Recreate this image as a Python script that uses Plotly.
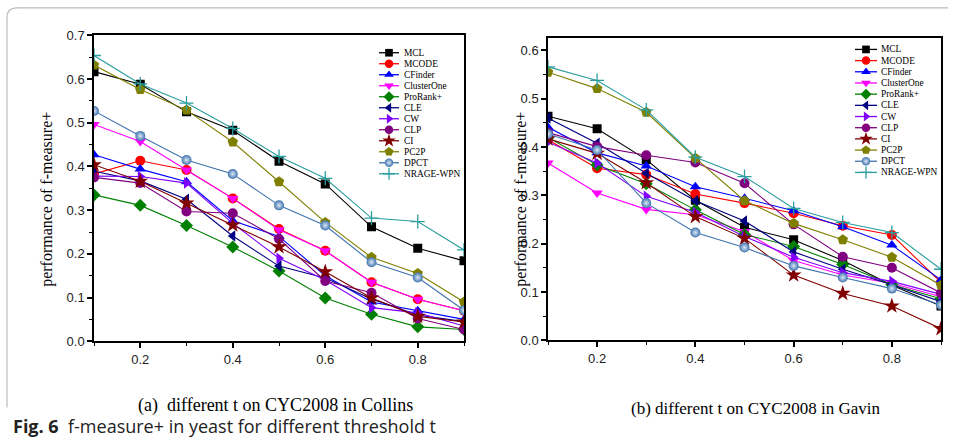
import plotly.graph_objects as go

W, H = 956, 439

t_values = [0.1, 0.2, 0.3, 0.4, 0.5, 0.6, 0.7, 0.8, 0.9]
methods = ["MCL", "MCODE", "CFinder", "ClusterOne", "ProRank+", "CLE", "CW", "CLP", "CI", "PC2P", "DPCT", "NRAGE-WPN"]

collins_MCL = [0.617, 0.588, 0.525, 0.483, 0.412, 0.360, 0.262, 0.213, 0.184]
collins_MCODE = [0.383, 0.413, 0.392, 0.327, 0.257, 0.207, 0.135, 0.096, 0.070]
collins_CFinder = [0.427, 0.394, 0.365, 0.276, 0.240, 0.150, 0.090, 0.070, 0.050]
collins_ClusterOne = [0.496, 0.457, 0.392, 0.327, 0.255, 0.207, 0.135, 0.096, 0.070]
collins_ProRank = [0.335, 0.311, 0.265, 0.216, 0.161, 0.099, 0.062, 0.033, 0.027]
collins_CLE = [0.389, 0.367, 0.325, 0.241, 0.172, 0.145, 0.097, 0.060, 0.045]
collins_CW = [0.378, 0.377, 0.362, 0.270, 0.190, 0.140, 0.077, 0.065, 0.035]
collins_CLP = [0.375, 0.362, 0.297, 0.293, 0.234, 0.138, 0.111, 0.052, 0.027]
collins_CI = [0.404, 0.366, 0.316, 0.266, 0.216, 0.159, 0.099, 0.057, 0.044]
collins_PC2P = [0.632, 0.576, 0.529, 0.456, 0.365, 0.272, 0.192, 0.155, 0.090]
collins_DPCT = [0.527, 0.470, 0.415, 0.383, 0.311, 0.265, 0.181, 0.146, 0.071]
collins_NRAGE = [0.654, 0.589, 0.545, 0.487, 0.423, 0.373, 0.282, 0.274, 0.209]

gavin_MCL = [0.464, 0.438, 0.374, 0.290, 0.234, 0.208, 0.165, 0.114, 0.071]
gavin_MCODE = [0.415, 0.356, 0.343, 0.303, 0.284, 0.263, 0.237, 0.218, 0.120]
gavin_CFinder = [0.441, 0.388, 0.361, 0.318, 0.294, 0.268, 0.235, 0.197, 0.125]
gavin_ClusterOne = [0.367, 0.305, 0.271, 0.260, 0.225, 0.165, 0.135, 0.118, 0.090]
gavin_ProRank = [0.420, 0.363, 0.324, 0.270, 0.219, 0.194, 0.157, 0.115, 0.086]
gavin_CLE = [0.460, 0.408, 0.346, 0.289, 0.247, 0.183, 0.147, 0.115, 0.080]
gavin_CW = [0.410, 0.367, 0.298, 0.265, 0.215, 0.172, 0.140, 0.122, 0.095]
gavin_CLP = [0.430, 0.401, 0.383, 0.368, 0.325, 0.240, 0.173, 0.150, 0.098]
gavin_CI = [0.417, 0.387, 0.326, 0.256, 0.211, 0.135, 0.097, 0.071, 0.024]
gavin_PC2P = [0.555, 0.521, 0.472, 0.377, 0.289, 0.242, 0.208, 0.172, 0.114]
gavin_DPCT = [0.427, 0.394, 0.284, 0.223, 0.192, 0.154, 0.130, 0.107, 0.073]
gavin_NRAGE = [0.566, 0.538, 0.477, 0.379, 0.339, 0.273, 0.244, 0.223, 0.147]

collins = [collins_MCL, collins_MCODE, collins_CFinder, collins_ClusterOne, collins_ProRank, collins_CLE,
           collins_CW, collins_CLP, collins_CI, collins_PC2P, collins_DPCT, collins_NRAGE]
gavin = [gavin_MCL, gavin_MCODE, gavin_CFinder, gavin_ClusterOne, gavin_ProRank, gavin_CLE,
         gavin_CW, gavin_CLP, gavin_CI, gavin_PC2P, gavin_DPCT, gavin_NRAGE]

x_ticks = [0.2, 0.4, 0.6, 0.8]

colors = ["#000000", "#FF0000", "#0000FF", "#FF00FF", "#008000", "#000080",
          "#8000FF", "#800080", "#800000", "#808000", "#3F73AE", "#2B9E9E"]
symbols = ["square", "circle", "triangle-up", "triangle-down", "diamond", "triangle-left",
           "triangle-right", "circle", "star", "pentagon", "circle", "cross-thin"]
sizes = [9, 10, 10, 10, 10, 10, 10, 10, 12, 11, 10, 10]

# the photographed page is squeezed vertically (page 455px -> 439px, offset ~7.7px);
# convert target picture pixels to figure pixels
V_OFF, V_SCALE = 7.7, 0.963


def px_x(p):
    return p / W


def fig_py(p):
    return (p - V_OFF) / V_SCALE


def px_y(p):
    return 1 - fig_py(p) / H


fig = go.Figure()


def marker_for(i, scale=1.0):
    m = dict(symbol=symbols[i], color=colors[i], size=sizes[i] * scale,
             line=dict(width=0, color=colors[i]))
    if symbols[i] == "cross-thin":
        m["line"] = dict(width=1.3, color=colors[i])
    if methods[i] == "DPCT":
        m["gradient"] = dict(type="radial", color="#DCE8F5")
    return m


for series_set, xa, ya in [(collins, "x", "y"), (gavin, "x2", "y2")]:
    for i, vals in enumerate(series_set):
        fig.add_trace(go.Scatter(
            x=t_values, y=vals, mode="lines+markers", name=methods[i],
            xaxis=xa, yaxis=ya, showlegend=False,
            line=dict(color=colors[i], width=1.1),
            marker=marker_for(i),
        ))

# manual legends (pixel-space overlay axis)
legend_specs = [
    dict(x0=379, x1=399, xm=389, xt=402, y0=53.3, dy=10.97),
    dict(x0=855, x1=877, xm=866, xt=879, y0=50.0, dy=11.15),
]
annotations = []
for spec in legend_specs:
    for i, name in enumerate(methods):
        yy = fig_py(spec["y0"] + i * spec["dy"])
        fig.add_trace(go.Scatter(
            x=[spec["x0"], spec["x1"]], y=[yy, yy], mode="lines",
            xaxis="x5", yaxis="y5", showlegend=False, hoverinfo="skip",
            line=dict(color=colors[i], width=1.3)))
        fig.add_trace(go.Scatter(
            x=[spec["xm"]], y=[yy], mode="markers",
            xaxis="x5", yaxis="y5", showlegend=False, hoverinfo="skip",
            marker=marker_for(i, 0.85)))
        annotations.append(dict(
            x=px_x(spec["xt"]), y=1 - yy / H, xref="paper", yref="paper",
            text=name, showarrow=False, xanchor="left", yanchor="middle",
            font=dict(family="Liberation Serif", size=9.4, color="#000")))

tickfont = dict(family="Liberation Sans", size=13, color="#222")
axis_common = dict(showline=True, linecolor="black", linewidth=1.5, mirror=True,
                   showgrid=False, zeroline=False, ticks="outside", ticklen=5,
                   tickwidth=1.5, tickcolor="black", tickfont=tickfont)

L_x0, L_x1, L_ytop, L_ybot = 94, 464, 36, 341
R_x0, R_x1, R_ytop, R_ybot = 548, 941, 39, 340
R_ymax = 0.625

fig.update_layout(
    width=W, height=H, autosize=False,
    margin=dict(l=0, r=0, t=0, b=0),
    paper_bgcolor="white", plot_bgcolor="rgba(0,0,0,0)",
    xaxis=dict(domain=[px_x(L_x0), px_x(L_x1)], range=[0.1, 0.9], anchor="y",
               tickvals=x_ticks, ticktext=[f"{v:.1f}" for v in x_ticks],
               minor=dict(ticks="outside", ticklen=3, tickwidth=1.2, tickcolor="black", dtick=0.1, tick0=0.1),
               **axis_common),
    yaxis=dict(domain=[px_y(L_ybot), px_y(L_ytop)], range=[0, 0.7], anchor="x",
               tick0=0, dtick=0.1, tickformat=".1f",
               minor=dict(ticks="outside", ticklen=3, tickwidth=1.2, tickcolor="black", dtick=0.05),
               **axis_common),
    xaxis3=dict(overlaying="x", side="top", anchor="y", range=[0.1, 0.9], ticks="inside",
                ticklen=5, tickwidth=1.2, tickcolor="black", tick0=0.1, dtick=0.08,
                showticklabels=False, showline=False, showgrid=False, zeroline=False),
    yaxis3=dict(overlaying="y", side="right", anchor="x", range=[0, 0.7], ticks="inside",
                ticklen=5, tickwidth=1.2, tickcolor="black", tick0=0, dtick=0.07,
                showticklabels=False, showline=False, showgrid=False, zeroline=False),
    xaxis2=dict(domain=[px_x(R_x0), px_x(R_x1)], range=[0.1, 0.9], anchor="y2",
                tickvals=x_ticks, ticktext=[f"{v:.1f}" for v in x_ticks],
                minor=dict(ticks="outside", ticklen=3, tickwidth=1.2, tickcolor="black", dtick=0.1, tick0=0.1),
                **axis_common),
    yaxis2=dict(domain=[px_y(R_ybot), px_y(R_ytop)], range=[0, R_ymax], anchor="x2",
                tick0=0, dtick=0.1, tickformat=".1f",
                minor=dict(ticks="outside", ticklen=3, tickwidth=1.2, tickcolor="black", dtick=0.05),
                **axis_common),
    xaxis4=dict(overlaying="x2", side="top", anchor="y2", range=[0.1, 0.9], ticks="inside",
                ticklen=5, tickwidth=1.2, tickcolor="black", tick0=0.1, dtick=0.08,
                showticklabels=False, showline=False, showgrid=False, zeroline=False),
    yaxis4=dict(overlaying="y2", side="right", anchor="x2", range=[0, R_ymax], ticks="inside",
                ticklen=5, tickwidth=1.2, tickcolor="black", tick0=0, dtick=0.0648,
                showticklabels=False, showline=False, showgrid=False, zeroline=False),
    xaxis5=dict(domain=[0, 1], range=[0, W], visible=False, anchor="y5"),
    yaxis5=dict(domain=[0, 1], range=[H, 0], visible=False, anchor="x5"),
)

# axis titles
for xc in [47, 521]:
    annotations.append(dict(
        x=px_x(xc), y=px_y(200), xref="paper", yref="paper", text="performance of f-measure+",
        textangle=-90, showarrow=False, xanchor="center", yanchor="middle",
        font=dict(family="Liberation Serif", size=16, color="#000")))

annotations.append(dict(
    x=px_x(275), y=px_y(405), xref="paper", yref="paper",
    text="(a)  different t on CYC2008 in Collins", showarrow=False,
    xanchor="center", yanchor="middle", font=dict(family="Liberation Serif", size=18, color="#000")))
annotations.append(dict(
    x=px_x(755), y=px_y(408), xref="paper", yref="paper",
    text="(b) different t on CYC2008 in Gavin", showarrow=False,
    xanchor="center", yanchor="middle", font=dict(family="Liberation Serif", size=17, color="#000")))
annotations.append(dict(
    x=px_x(11), y=px_y(425), xref="paper", yref="paper",
    text="<b>Fig. 6</b>  f-measure+ in yeast for different threshold t", showarrow=False,
    xanchor="left", yanchor="middle", font=dict(family="Open Sans", size=18, color="#222")))

fig.update_layout(annotations=annotations)

# outer frame (top + left, rounded corner)
frame_path = (f"M {px_x(7)},{px_y(407)} L {px_x(7)},{px_y(18)} "
              f"Q {px_x(7)},{px_y(8.5)} {px_x(17)},{px_y(8.5)} L {px_x(948)},{px_y(8.5)}")
fig.add_shape(type="path", path=frame_path, xref="paper", yref="paper",
              line=dict(color="#BBBBBB", width=1.2))

post = ("document.documentElement.style.margin='0';document.body.style.margin='0';"
        "document.body.style.padding='0';document.body.style.overflow='hidden';"
        "var d=document.getElementById('{plot_id}');"
        "d.style.position='fixed';d.style.top='0px';d.style.left='0px';")
fig.write_html("out.html", config={"displayModeBar": False}, post_script=post)
